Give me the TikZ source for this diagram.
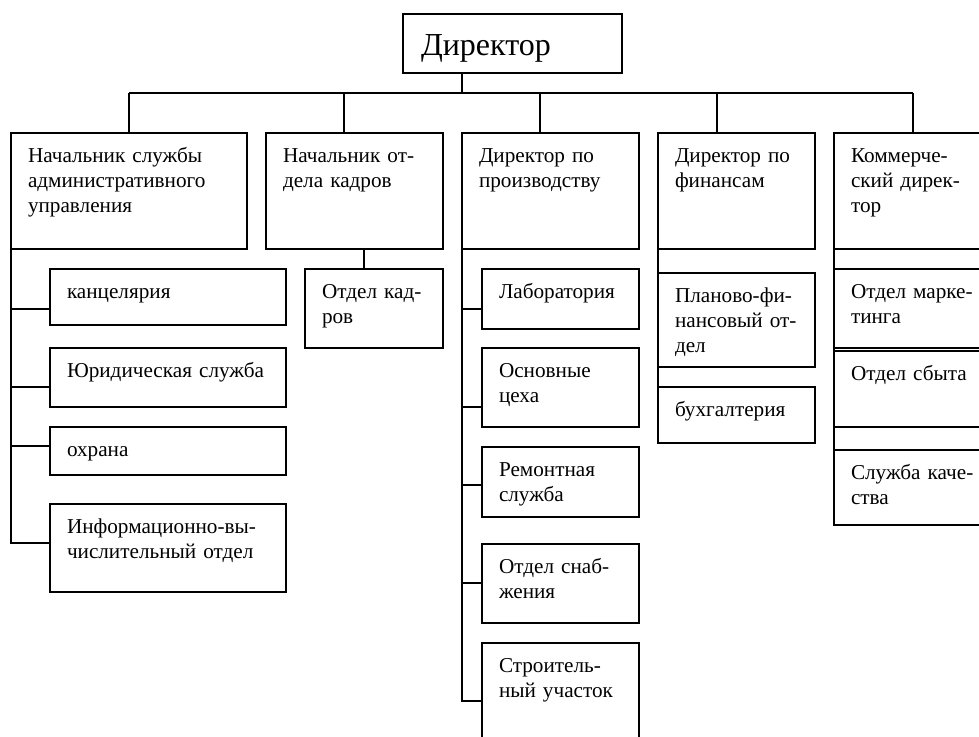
\documentclass[tikz,border=0pt]{standalone}
\usepackage{fontspec}
\setmainfont{Liberation Serif}
\usepackage{tikz}
\usetikzlibrary{positioning}
\hyphenpenalty=10000 % keep the lines as they are written
\exhyphenpenalty=10000
\newcommand\boxfont{\fontsize{21.2}{25}\selectfont}
\newcommand\headfont{\fontsize{32}{38}\selectfont}
\tikzset{unit/.style 2 args={ % box of given width and height, text at top left
draw,
line width=1.4pt,
anchor=north west,
align=left,
outer sep=0pt,
inner xsep=17pt, inner ysep=0pt,
font=\boxfont,
text width={#1-34pt},
text height=29.5pt,
text depth={#2-29.5pt}},
head/.style={ % the director at the top
draw,
line width=1.4pt,
anchor=north west,
align=left,
outer sep=0pt,
inner xsep=18pt, inner ysep=0pt,
font=\headfont,
text width=183pt,
text height=41pt,
text depth=18pt},
link/.style={ % plain connecting lines
draw,
line width=1.4pt}}

\begin{document}
\begin{tikzpicture}[x=1pt, y=1pt]
    \useasboundingbox (0,0) rectangle (979,-736);
    \clip (0,0) rectangle (979,-736);
    \node[head] (dir) at (403,-14) {Директор};
    % heads
    \node[unit={236pt}{116pt}] (adm) at (11,-133) {Начальник~службы\\административного\\управления};
    \node[unit={177pt}{116pt}, right=19pt of adm] (kadr) {Начальник~от-\\дела~кадров};
    \node[unit={177pt}{116pt}, right=19pt of kadr] (prod) {Директор~по\\производству};
    \node[unit={157pt}{116pt}, right=19pt of prod] (fin) {Директор~по\\финансам};
    \node[unit={158pt}{116pt}, right=19pt of fin] (kom) {Коммерче-\\ский~дирек-\\тор};
    % administration
    \node[unit={236pt}{56pt}] (kanc) at (50,-269) {канцелярия};
    \node[unit={236pt}{59pt}, below=23pt of kanc] (yur) {Юридическая~служба};
    \node[unit={236pt}{48pt}, below=20pt of yur] (ohr) {охрана};
    \node[unit={236pt}{88pt}, below=29pt of ohr] (inf) {Информационно-вы-\\числительный~отдел};
    % personnel
    \node[unit={138pt}{79pt}] (otd) at (305,-269) {Отдел~кад-\\ров};
    % production
    \node[unit={157pt}{60pt}] (lab) at (482,-269) {Лаборатория};
    \node[unit={157pt}{79pt}, below=19pt of lab] (osn) {Основные\\цеха};
    \node[unit={157pt}{70pt}, below=20pt of osn] (rem) {Ремонтная\\служба};
    \node[unit={157pt}{79pt}, below=27pt of rem] (snab) {Отдел~снаб-\\жения};
    \node[unit={157pt}{100pt}, below=20pt of snab] (str) {Строитель-\\ный~участок};
    % finance
    \node[unit={157pt}{94pt}] (plan) at (658,-273) {Планово-фи-\\нансовый~от-\\дел};
    \node[unit={157pt}{56pt}, below=20pt of plan] (buh) {бухгалтерия};
    % commerce
    \node[unit={158pt}{79pt}] (mark) at (834,-269) {Отдел~марке-\\тинга};
    \node[unit={158pt}{76pt}, below=3pt of mark] (sbyt) {Отдел~сбыта};
    \node[unit={158pt}{75pt}, below=23pt of sbyt] (kach) {Служба~каче-\\ства};
    % director to heads
    \coordinate (bus) at (0,-93);
    \coordinate (dir-out) at ([xshift=59pt]dir.south west);
    \coordinate (kadr-in) at ([xshift=78pt]kadr.north west);
    \coordinate (prod-in) at ([xshift=78pt]prod.north west);
    \coordinate (fin-in) at ([xshift=59pt]fin.north west);
    \coordinate (kom-in) at ([xshift=79pt]kom.north west);
    \draw[link] (dir-out) -- (dir-out |- bus);
    \draw[link] (adm.north |- bus) -- (kom-in |- bus);
    \draw[link] (adm.north |- bus) -- (adm.north);
    \draw[link] (kadr-in |- bus) -- (kadr-in);
    \draw[link] (prod-in |- bus) -- (prod-in);
    \draw[link] (fin-in |- bus) -- (fin-in);
    \draw[link] (kom-in |- bus) -- (kom-in);
    % heads to their departments
    \draw[link] (adm.south west) |- ([yshift=-40pt]kanc.north west);
    \draw[link] (adm.south west) |- ([yshift=-39pt]yur.north west);
    \draw[link] (adm.south west) |- ([yshift=-19pt]ohr.north west);
    \draw[link] (adm.south west) |- ([yshift=-39pt]inf.north west);
    \coordinate (kadr-out) at ([xshift=98pt]kadr.south west);
    \draw[link] (kadr-out) -- (kadr-out |- otd.north);
    \draw[link] (prod.south west) |- ([yshift=-40pt]lab.north west);
    \draw[link] (prod.south west) |- ([yshift=-59pt]osn.north west);
    \draw[link] (prod.south west) |- ([yshift=-38pt]rem.north west);
    \draw[link] (prod.south west) |- ([yshift=-39pt]snab.north west);
    \draw[link] (prod.south west) |- ([yshift=-58pt]str.north west);
    \draw[link] (fin.south west) -- (buh.north west);
    \draw[link] (kom.south west) -- (kach.north west);
\end{tikzpicture}
\end{document}
